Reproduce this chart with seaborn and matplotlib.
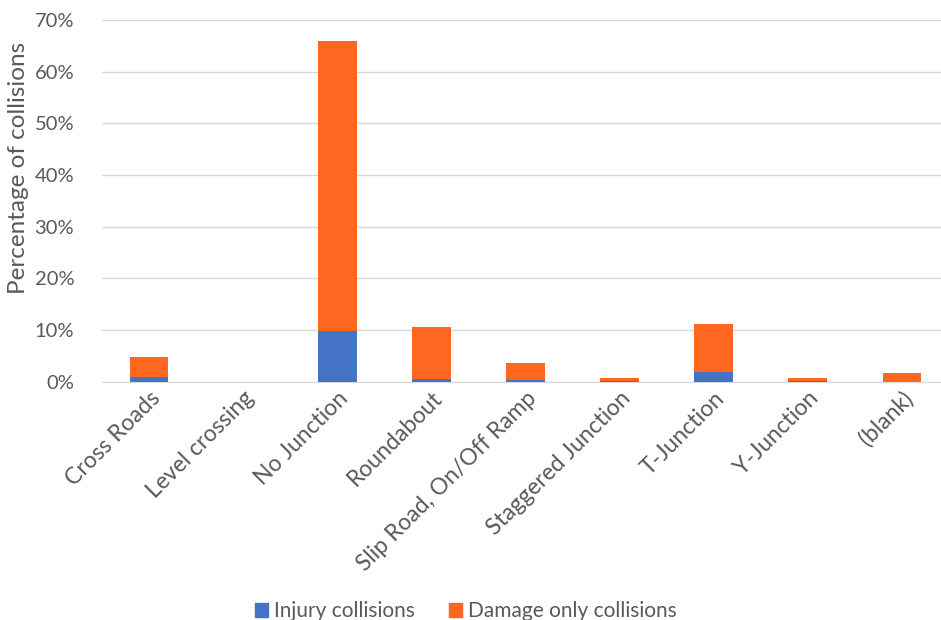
import pandas as pd
import matplotlib.pyplot as plt
import seaborn as sns
from matplotlib.patches import Patch
from matplotlib.ticker import PercentFormatter

junctions = ['Cross Roads', 'Level crossing', 'No Junction', 'Roundabout',
             'Slip Road, On/Off Ramp', 'Staggered Junction', 'T-Junction',
             'Y-Junction', '(blank)']
injury = [0.9, 0.0, 9.9, 0.65, 0.3, 0.2, 1.9, 0.1, 0.05]
damage = [4.0, 0.0, 56.0, 9.95, 3.4, 0.6, 9.3, 0.7, 1.65]

df = pd.DataFrame({'Junction': junctions, 'Injury': injury, 'Damage': damage})
df['Total'] = df['Injury'] + df['Damage']

blue = '#4472C4'
orange = '#FF6720'
grey = '#595959'

sns.set_style('white')
plt.rcParams['font.family'] = ['Lato', 'DejaVu Sans']

fig = plt.figure(figsize=(9.41, 6.2), dpi=100)
ax = fig.add_axes([0.1084, 0.384, 0.900, 0.584])

sns.barplot(data=df, x='Junction', y='Total', color=orange, width=0.41,
            saturation=1, linewidth=0, ax=ax, zorder=2)
sns.barplot(data=df, x='Junction', y='Injury', color=blue, width=0.41,
            saturation=1, linewidth=0, ax=ax, zorder=3)

ax.set_ylim(0, 70)
ax.set_yticks(range(0, 71, 10))
ax.yaxis.set_major_formatter(PercentFormatter(decimals=0))
ax.grid(axis='y', color='#d9d9d9', linewidth=1, zorder=0)
ax.set_axisbelow(True)
for s in ['top', 'right', 'left']:
    ax.spines[s].set_visible(False)
ax.spines['bottom'].set_color('#d9d9d9')
ax.tick_params(axis='y', length=0, colors=grey, labelsize=14.5, pad=20)
ax.tick_params(axis='x', length=0, colors=grey, labelsize=16.5, pad=4)
ax.set_xticks(range(len(junctions)))
ax.set_xticklabels(junctions, rotation=45, ha='right', rotation_mode='anchor')
ax.set_xlabel('')
ax.set_ylabel('Percentage of collisions', color=grey, fontsize=17.5)
ax.yaxis.set_label_coords(-0.086, 0.59)

handles = [Patch(color=blue, label='Injury collisions'),
           Patch(color=orange, label='Damage only collisions')]
fig.legend(handles=handles, loc='lower center', bbox_to_anchor=(0.495, -0.032),
           ncol=2, frameon=False, fontsize=15, labelcolor=grey,
           handlelength=0.65, handleheight=0.65, columnspacing=1.6, handletextpad=0.3)

fig.savefig('out.png', dpi=100)
